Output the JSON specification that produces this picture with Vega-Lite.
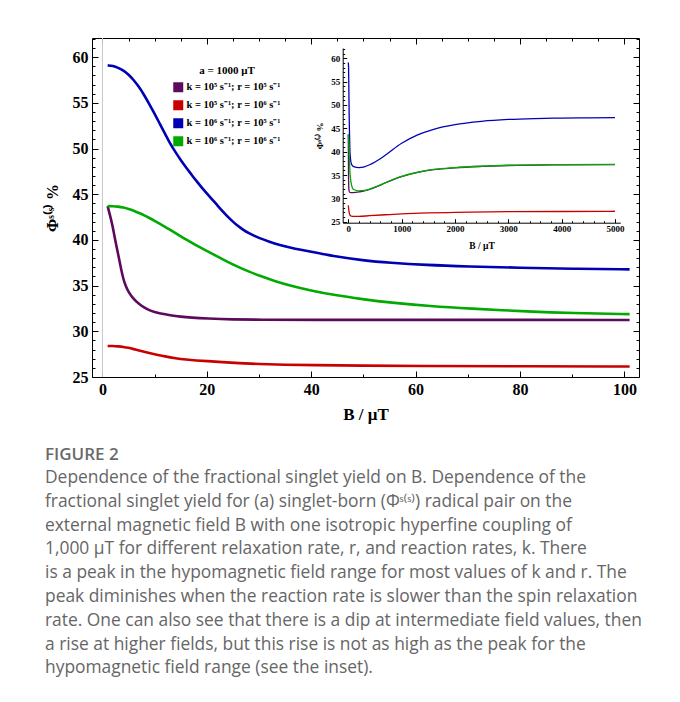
{
  "$schema": "https://vega.github.io/schema/vega-lite/v6.json",
  "width": 547,
  "height": 339,
  "autosize": {"type": "none"},
  "padding": {"left": 92, "top": 38, "right": 41, "bottom": 325},
  "background": "white",
  "config": {
    "view": {"stroke": "black", "strokeWidth": 1},
    "axis": {"grid": false, "labelFont": "Liberation Serif", "labelFontWeight": "bold", "titleFont": "Liberation Serif", "titleFontWeight": "bold", "labelColor": "black", "titleColor": "black", "tickColor": "black", "domainColor": "black", "labelFlush": false, "labelOverlap": false}
  },
  "title": {
    "text": "FIGURE 2",
    "subtitle": [
      "Dependence of the fractional singlet yield on B. Dependence of the",
      "fractional singlet yield for (a) singlet-born (Φˢ⁽ˢ⁾) radical pair on the",
      "external magnetic field B with one isotropic hyperfine coupling of",
      "1,000 μT for different relaxation rate, r, and reaction rates, k. There",
      "is a peak in the hypomagnetic field range for most values of k and r. The",
      "peak diminishes when the reaction rate is slower than the spin relaxation",
      "rate. One can also see that there is a dip at intermediate field values, then",
      "a rise at higher fields, but this rise is not as high as the peak for the",
      "hypomagnetic field range (see the inset)."
    ],
    "orient": "bottom",
    "anchor": "start",
    "frame": "group",
    "dx": -47,
    "offset": 25,
    "font": "Open Sans",
    "fontSize": 17,
    "fontWeight": 600,
    "color": "#6a6a6a",
    "subtitleFont": "Open Sans",
    "subtitleFontSize": 17.4,
    "subtitleColor": "#666666",
    "subtitleLineHeight": 23.8,
    "subtitlePadding": 5
  },
  "datasets": {
    "main": [
      {"s": "k5r5", "B": 1, "v": 43.7}, {"s": "k5r5", "B": 1.5, "v": 42.6}, {"s": "k5r5", "B": 2, "v": 41.4}, {"s": "k5r5", "B": 2.5, "v": 39.8}, {"s": "k5r5", "B": 3, "v": 38.5}, {"s": "k5r5", "B": 3.5, "v": 37.0}, {"s": "k5r5", "B": 4, "v": 35.7}, {"s": "k5r5", "B": 4.5, "v": 34.9}, {"s": "k5r5", "B": 5, "v": 34.3}, {"s": "k5r5", "B": 6, "v": 33.5}, {"s": "k5r5", "B": 7, "v": 33.0}, {"s": "k5r5", "B": 8, "v": 32.6}, {"s": "k5r5", "B": 9, "v": 32.3}, {"s": "k5r5", "B": 10, "v": 32.1}, {"s": "k5r5", "B": 11, "v": 31.95}, {"s": "k5r5", "B": 13, "v": 31.75}, {"s": "k5r5", "B": 15, "v": 31.6}, {"s": "k5r5", "B": 17, "v": 31.5}, {"s": "k5r5", "B": 20, "v": 31.4}, {"s": "k5r5", "B": 25, "v": 31.3}, {"s": "k5r5", "B": 30, "v": 31.27}, {"s": "k5r5", "B": 40, "v": 31.25}, {"s": "k5r5", "B": 60, "v": 31.25}, {"s": "k5r5", "B": 80, "v": 31.25}, {"s": "k5r5", "B": 101, "v": 31.24},
      {"s": "k5r6", "B": 1, "v": 28.4}, {"s": "k5r6", "B": 2, "v": 28.4}, {"s": "k5r6", "B": 3, "v": 28.35}, {"s": "k5r6", "B": 4, "v": 28.3}, {"s": "k5r6", "B": 5, "v": 28.2}, {"s": "k5r6", "B": 6, "v": 28.05}, {"s": "k5r6", "B": 7, "v": 27.9}, {"s": "k5r6", "B": 8, "v": 27.75}, {"s": "k5r6", "B": 10, "v": 27.5}, {"s": "k5r6", "B": 12, "v": 27.25}, {"s": "k5r6", "B": 14, "v": 27.05}, {"s": "k5r6", "B": 16, "v": 26.9}, {"s": "k5r6", "B": 18, "v": 26.8}, {"s": "k5r6", "B": 20, "v": 26.75}, {"s": "k5r6", "B": 23, "v": 26.62}, {"s": "k5r6", "B": 26, "v": 26.52}, {"s": "k5r6", "B": 30, "v": 26.42}, {"s": "k5r6", "B": 35, "v": 26.34}, {"s": "k5r6", "B": 40, "v": 26.3}, {"s": "k5r6", "B": 50, "v": 26.24}, {"s": "k5r6", "B": 60, "v": 26.2}, {"s": "k5r6", "B": 80, "v": 26.17}, {"s": "k5r6", "B": 101, "v": 26.15},
      {"s": "k6r5", "B": 1, "v": 59.1}, {"s": "k6r5", "B": 2, "v": 59.05}, {"s": "k6r5", "B": 3, "v": 58.85}, {"s": "k6r5", "B": 4, "v": 58.55}, {"s": "k6r5", "B": 5, "v": 58.1}, {"s": "k6r5", "B": 6, "v": 57.5}, {"s": "k6r5", "B": 7, "v": 56.75}, {"s": "k6r5", "B": 8, "v": 55.85}, {"s": "k6r5", "B": 9, "v": 54.85}, {"s": "k6r5", "B": 10, "v": 53.8}, {"s": "k6r5", "B": 11, "v": 52.7}, {"s": "k6r5", "B": 12, "v": 51.6}, {"s": "k6r5", "B": 13, "v": 50.5}, {"s": "k6r5", "B": 14, "v": 49.6}, {"s": "k6r5", "B": 15, "v": 48.75}, {"s": "k6r5", "B": 16, "v": 47.95}, {"s": "k6r5", "B": 17, "v": 47.2}, {"s": "k6r5", "B": 18, "v": 46.45}, {"s": "k6r5", "B": 19, "v": 45.75}, {"s": "k6r5", "B": 20, "v": 45.1}, {"s": "k6r5", "B": 21, "v": 44.45}, {"s": "k6r5", "B": 22, "v": 43.8}, {"s": "k6r5", "B": 23, "v": 43.15}, {"s": "k6r5", "B": 24, "v": 42.55}, {"s": "k6r5", "B": 25, "v": 42.0}, {"s": "k6r5", "B": 26, "v": 41.5}, {"s": "k6r5", "B": 27, "v": 41.1}, {"s": "k6r5", "B": 28, "v": 40.75}, {"s": "k6r5", "B": 30, "v": 40.2}, {"s": "k6r5", "B": 32, "v": 39.8}, {"s": "k6r5", "B": 34, "v": 39.45}, {"s": "k6r5", "B": 36, "v": 39.15}, {"s": "k6r5", "B": 40, "v": 38.7}, {"s": "k6r5", "B": 44, "v": 38.25}, {"s": "k6r5", "B": 50, "v": 37.75}, {"s": "k6r5", "B": 55, "v": 37.5}, {"s": "k6r5", "B": 62, "v": 37.25}, {"s": "k6r5", "B": 70, "v": 37.1}, {"s": "k6r5", "B": 80, "v": 36.95}, {"s": "k6r5", "B": 90, "v": 36.85}, {"s": "k6r5", "B": 101, "v": 36.78},
      {"s": "k6r6", "B": 1, "v": 43.7}, {"s": "k6r6", "B": 2, "v": 43.7}, {"s": "k6r6", "B": 3, "v": 43.65}, {"s": "k6r6", "B": 4, "v": 43.55}, {"s": "k6r6", "B": 5, "v": 43.4}, {"s": "k6r6", "B": 6, "v": 43.2}, {"s": "k6r6", "B": 7, "v": 42.95}, {"s": "k6r6", "B": 8, "v": 42.7}, {"s": "k6r6", "B": 9, "v": 42.4}, {"s": "k6r6", "B": 10, "v": 42.1}, {"s": "k6r6", "B": 12, "v": 41.45}, {"s": "k6r6", "B": 14, "v": 40.75}, {"s": "k6r6", "B": 16, "v": 40.05}, {"s": "k6r6", "B": 18, "v": 39.4}, {"s": "k6r6", "B": 20, "v": 38.8}, {"s": "k6r6", "B": 22, "v": 38.2}, {"s": "k6r6", "B": 24, "v": 37.6}, {"s": "k6r6", "B": 26, "v": 37.05}, {"s": "k6r6", "B": 28, "v": 36.55}, {"s": "k6r6", "B": 30, "v": 36.1}, {"s": "k6r6", "B": 33, "v": 35.5}, {"s": "k6r6", "B": 36, "v": 35.0}, {"s": "k6r6", "B": 40, "v": 34.45}, {"s": "k6r6", "B": 44, "v": 34.0}, {"s": "k6r6", "B": 50, "v": 33.5}, {"s": "k6r6", "B": 55, "v": 33.15}, {"s": "k6r6", "B": 63, "v": 32.75}, {"s": "k6r6", "B": 70, "v": 32.5}, {"s": "k6r6", "B": 82, "v": 32.15}, {"s": "k6r6", "B": 90, "v": 32.0}, {"s": "k6r6", "B": 101, "v": 31.88}
    ],
    "inset": [
      {"s": "k5r5", "B": 0, "v": 43.7}, {"s": "k5r5", "B": 3, "v": 38.2}, {"s": "k5r5", "B": 5, "v": 34.3}, {"s": "k5r5", "B": 10, "v": 32.1}, {"s": "k5r5", "B": 20, "v": 31.4}, {"s": "k5r5", "B": 50, "v": 31.25}, {"s": "k5r5", "B": 100, "v": 31.25}, {"s": "k5r5", "B": 200, "v": 31.4}, {"s": "k5r5", "B": 300, "v": 31.6}, {"s": "k5r5", "B": 400, "v": 31.95}, {"s": "k5r5", "B": 500, "v": 32.35}, {"s": "k5r5", "B": 700, "v": 33.35}, {"s": "k5r5", "B": 1000, "v": 34.65}, {"s": "k5r5", "B": 1300, "v": 35.55}, {"s": "k5r5", "B": 1600, "v": 36.15}, {"s": "k5r5", "B": 2000, "v": 36.55}, {"s": "k5r5", "B": 2500, "v": 36.85}, {"s": "k5r5", "B": 3000, "v": 37.05}, {"s": "k5r5", "B": 4000, "v": 37.2}, {"s": "k5r5", "B": 5000, "v": 37.25},
      {"s": "k5r6", "B": 0, "v": 28.5}, {"s": "k5r6", "B": 10, "v": 27.5}, {"s": "k5r6", "B": 20, "v": 26.8}, {"s": "k5r6", "B": 40, "v": 26.3}, {"s": "k5r6", "B": 60, "v": 26.2}, {"s": "k5r6", "B": 100, "v": 26.15}, {"s": "k5r6", "B": 200, "v": 26.15}, {"s": "k5r6", "B": 400, "v": 26.3}, {"s": "k5r6", "B": 700, "v": 26.5}, {"s": "k5r6", "B": 1000, "v": 26.7}, {"s": "k5r6", "B": 1500, "v": 26.9}, {"s": "k5r6", "B": 2000, "v": 27.0}, {"s": "k5r6", "B": 3000, "v": 27.15}, {"s": "k5r6", "B": 4000, "v": 27.2}, {"s": "k5r6", "B": 5000, "v": 27.25},
      {"s": "k6r5", "B": 0, "v": 59.1}, {"s": "k6r5", "B": 5, "v": 58.1}, {"s": "k6r5", "B": 10, "v": 53.8}, {"s": "k6r5", "B": 15, "v": 48.9}, {"s": "k6r5", "B": 20, "v": 45.2}, {"s": "k6r5", "B": 30, "v": 40.3}, {"s": "k6r5", "B": 40, "v": 38.6}, {"s": "k6r5", "B": 60, "v": 37.3}, {"s": "k6r5", "B": 100, "v": 36.8}, {"s": "k6r5", "B": 200, "v": 36.6}, {"s": "k6r5", "B": 300, "v": 36.75}, {"s": "k6r5", "B": 400, "v": 37.2}, {"s": "k6r5", "B": 500, "v": 37.8}, {"s": "k6r5", "B": 700, "v": 39.3}, {"s": "k6r5", "B": 1000, "v": 41.8}, {"s": "k6r5", "B": 1300, "v": 43.6}, {"s": "k6r5", "B": 1600, "v": 44.8}, {"s": "k6r5", "B": 2000, "v": 45.8}, {"s": "k6r5", "B": 2500, "v": 46.5}, {"s": "k6r5", "B": 3000, "v": 46.9}, {"s": "k6r5", "B": 3500, "v": 47.1}, {"s": "k6r5", "B": 4000, "v": 47.2}, {"s": "k6r5", "B": 4500, "v": 47.25}, {"s": "k6r5", "B": 5000, "v": 47.3},
      {"s": "k6r6", "B": 0, "v": 43.7}, {"s": "k6r6", "B": 10, "v": 42.1}, {"s": "k6r6", "B": 20, "v": 38.85}, {"s": "k6r6", "B": 30, "v": 35.9}, {"s": "k6r6", "B": 40, "v": 34.4}, {"s": "k6r6", "B": 60, "v": 32.9}, {"s": "k6r6", "B": 100, "v": 31.9}, {"s": "k6r6", "B": 200, "v": 31.6}, {"s": "k6r6", "B": 300, "v": 31.7}, {"s": "k6r6", "B": 400, "v": 32.0}, {"s": "k6r6", "B": 500, "v": 32.4}, {"s": "k6r6", "B": 700, "v": 33.4}, {"s": "k6r6", "B": 1000, "v": 34.7}, {"s": "k6r6", "B": 1300, "v": 35.6}, {"s": "k6r6", "B": 1600, "v": 36.2}, {"s": "k6r6", "B": 2000, "v": 36.6}, {"s": "k6r6", "B": 2500, "v": 36.9}, {"s": "k6r6", "B": 3000, "v": 37.1}, {"s": "k6r6", "B": 4000, "v": 37.25}, {"s": "k6r6", "B": 5000, "v": 37.3}
    ]
  },
  "layer": [
    {
      "layer": [
        {
          "data": {"values": [{"B": 0}]},
          "mark": {"type": "rule", "color": "#c8c8c8", "strokeWidth": 1},
          "encoding": {"x": {"field": "B", "type": "quantitative"}}
        },
        {
          "data": {"name": "main"},
          "mark": {"type": "line", "strokeWidth": 2.6, "interpolate": "basis"},
          "encoding": {
            "x": {
              "field": "B", "type": "quantitative",
              "scale": {"domain": [-2, 102.8], "nice": false, "zero": false},
              "axis": {
                "orient": "bottom", "title": "B / μT", "domain": false,
                "values": [0, 5, 10, 15, 20, 25, 30, 35, 40, 45, 50, 55, 60, 65, 70, 75, 80, 85, 90, 95, 100],
                "labelExpr": "datum.value % 20 === 0 ? datum.label : ''",
                "tickSize": {"condition": {"test": "datum.value % 20 === 0", "value": -6}, "value": -3},
                "labelPadding": 10, "labelFontSize": 16, "titleFontSize": 17, "titlePadding": 6
              }
            },
            "y": {
              "field": "v", "type": "quantitative",
              "scale": {"domain": [25, 62.1], "nice": false, "zero": false},
              "axis": {
                "orient": "left", "title": "Φˢ⁽ˢ⁾ %", "domain": false,
                "values": [25, 26, 27, 28, 29, 30, 31, 32, 33, 34, 35, 36, 37, 38, 39, 40, 41, 42, 43, 44, 45, 46, 47, 48, 49, 50, 51, 52, 53, 54, 55, 56, 57, 58, 59, 60, 61, 62],
                "labelExpr": "datum.value % 5 === 0 ? datum.label : ''",
                "tickSize": {"condition": {"test": "datum.value % 5 === 0", "value": -6}, "value": -3},
                "labelPadding": 10, "labelFontSize": 16, "titleFontSize": 16, "titlePadding": 12
              }
            },
            "color": {
              "field": "s", "type": "nominal",
              "scale": {"domain": ["k5r5", "k5r6", "k6r5", "k6r6"], "range": ["#5c0a5c", "#c80000", "#0000b4", "#00aa00"]},
              "legend": {
                "orient": "none", "legendX": 81, "legendY": 27,
                "title": "a = 1000 μT", "titleAnchor": "middle", "titleFont": "Liberation Serif", "titleFontWeight": "bold", "titleFontSize": 11, "titleColor": "black", "titlePadding": 6,
                "symbolType": "square", "symbolSize": 100, "symbolStrokeWidth": 0,
                "labelFont": "Liberation Serif", "labelFontWeight": "bold", "labelFontSize": 10.5, "labelColor": "black", "labelOffset": 3, "rowPadding": 7,
                "labelExpr": "{'k5r5': 'k = 10⁵ s⁻¹; r = 10⁵ s⁻¹', 'k5r6': 'k = 10⁵ s⁻¹; r = 10⁶ s⁻¹', 'k6r5': 'k = 10⁶ s⁻¹; r = 10⁵ s⁻¹', 'k6r6': 'k = 10⁶ s⁻¹; r = 10⁶ s⁻¹'}[datum.value]",
                "encode": {"symbols": {"update": {"fill": {"scale": "color", "field": "value"}, "opacity": {"value": 1}}}}
              }
            }
          }
        }
      ]
    },
    {
      "data": {"name": "main"},
      "mark": {"type": "point", "opacity": 0},
      "encoding": {
        "x": {
          "field": "B", "type": "quantitative",
          "scale": {"domain": [-2, 102.8], "nice": false, "zero": false},
          "axis": {
            "orient": "top", "title": null, "domain": false, "labels": false,
            "values": [0, 5, 10, 15, 20, 25, 30, 35, 40, 45, 50, 55, 60, 65, 70, 75, 80, 85, 90, 95, 100],
            "tickSize": {"condition": {"test": "datum.value % 20 === 0", "value": -6}, "value": -3}
          }
        },
        "y": {
          "field": "v", "type": "quantitative",
          "scale": {"domain": [25, 62.1], "nice": false, "zero": false},
          "axis": {
            "orient": "right", "title": null, "domain": false, "labels": false,
            "values": [25, 26, 27, 28, 29, 30, 31, 32, 33, 34, 35, 36, 37, 38, 39, 40, 41, 42, 43, 44, 45, 46, 47, 48, 49, 50, 51, 52, 53, 54, 55, 56, 57, 58, 59, 60, 61, 62],
            "tickSize": {"condition": {"test": "datum.value % 5 === 0", "value": -6}, "value": -3}
          }
        }
      }
    },
    {
      "data": {"name": "inset"},
      "mark": {"type": "line", "strokeWidth": 1.3, "interpolate": "monotone"},
      "encoding": {
        "x": {
          "field": "B", "type": "quantitative",
          "scale": {"domain": [-105, 5100], "range": [250.7, 528.3], "nice": false, "zero": false},
          "axis": {
            "orient": "bottom", "offset": -154.3, "title": "B / μT", "domain": true,
            "values": [0, 200, 400, 600, 800, 1000, 1200, 1400, 1600, 1800, 2000, 2200, 2400, 2600, 2800, 3000, 3200, 3400, 3600, 3800, 4000, 4200, 4400, 4600, 4800, 5000],
            "labelExpr": "datum.value % 1000 === 0 ? datum.value : ''",
            "tickSize": {"condition": {"test": "datum.value % 1000 === 0", "value": -4}, "value": -2},
            "labelPadding": 6, "labelFontSize": 9, "titleFontSize": 9.5, "titlePadding": 5
          }
        },
        "y": {
          "field": "v", "type": "quantitative",
          "scale": {"domain": [24.8, 62.2], "range": [184.7, 10], "nice": false, "zero": false},
          "axis": {
            "orient": "left", "offset": -250.7, "title": "Φˢ⁽ˢ⁾ %", "domain": true,
            "values": [25, 26, 27, 28, 29, 30, 31, 32, 33, 34, 35, 36, 37, 38, 39, 40, 41, 42, 43, 44, 45, 46, 47, 48, 49, 50, 51, 52, 53, 54, 55, 56, 57, 58, 59, 60, 61, 62],
            "labelExpr": "datum.value % 5 === 0 ? datum.label : ''",
            "tickSize": {"condition": {"test": "datum.value % 5 === 0", "value": -4}, "value": -2},
            "labelPadding": 7, "labelFontSize": 9, "titleFontSize": 9, "titlePadding": 6
          }
        },
        "color": {"field": "s", "type": "nominal"}
      }
    }
  ],
  "resolve": {"scale": {"x": "independent", "y": "independent"}, "axis": {"x": "independent", "y": "independent"}}
}
